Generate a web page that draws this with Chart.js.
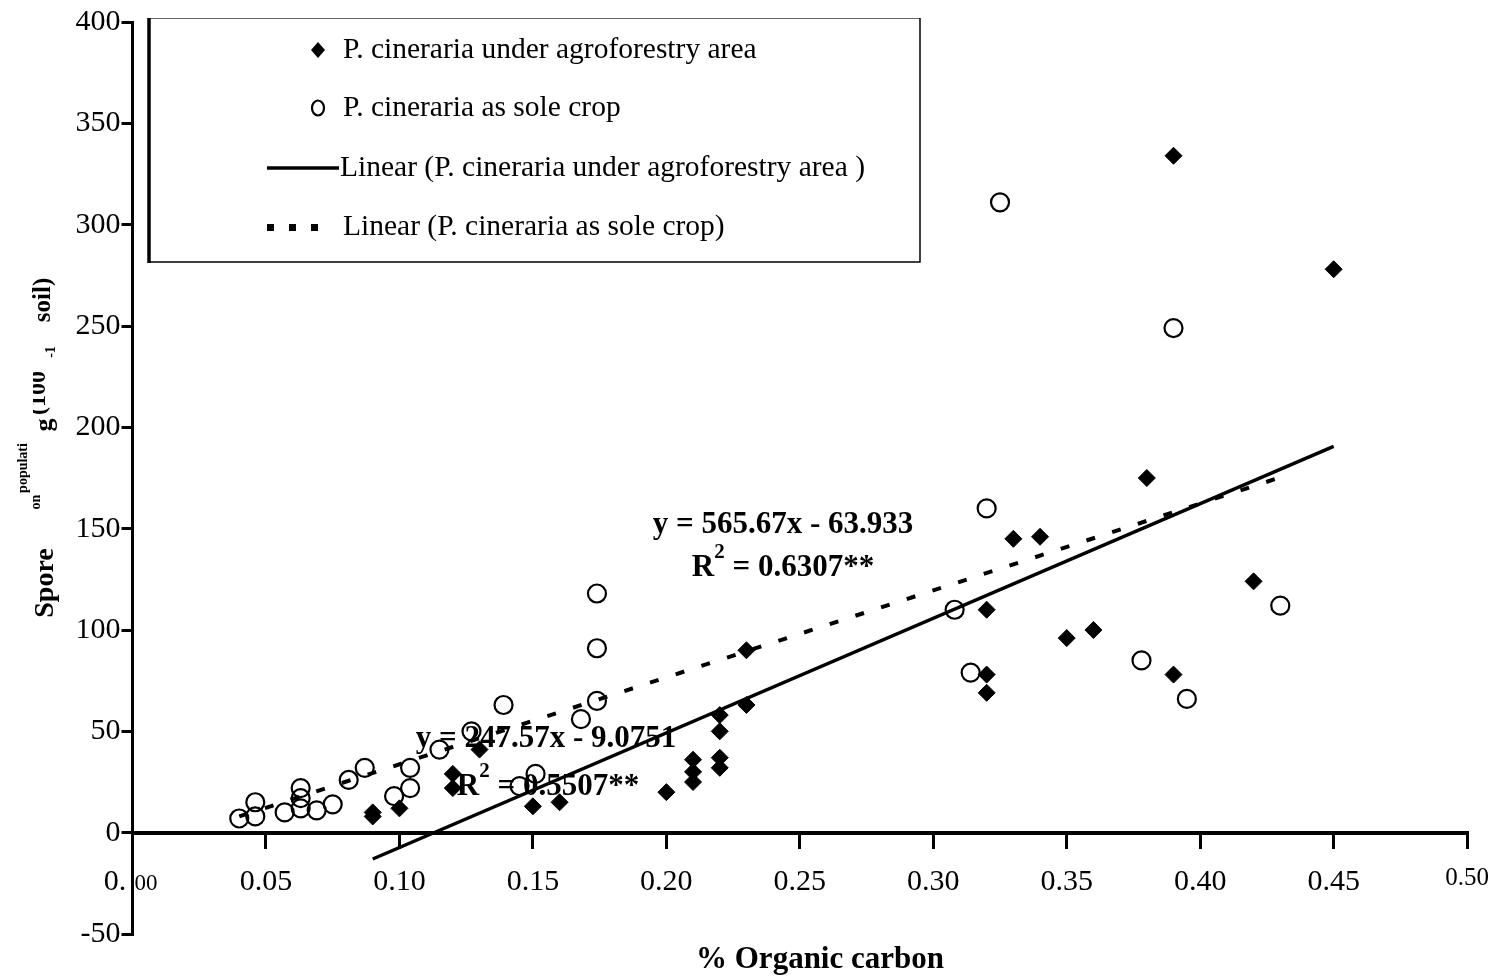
<!DOCTYPE html>
<html>
<head>
<meta charset="utf-8">
<script src="https://cdn.jsdelivr.net/npm/chart.js@4.4.0/dist/chart.umd.min.js"></script>
<style>
  html, body { margin: 0; padding: 0; background: #fff; }
  canvas { display: block; }
</style>
</head>
<body>
<canvas id="chart" width="1506" height="979"></canvas>
<script>
// P. cineraria under agroforestry area (Rauten)
const agroX = [0.09, 0.09, 0.10, 0.12, 0.12, 0.13, 0.15, 0.16, 0.20, 0.21, 0.21, 0.21,
  0.22, 0.22, 0.22, 0.22, 0.23, 0.23, 0.32, 0.32, 0.32, 0.33, 0.34, 0.35, 0.36, 0.38,
  0.39, 0.39, 0.42, 0.45];
const agroY = [10, 8, 12, 29, 22, 41, 13, 15, 20, 36, 30, 25,
  58, 50, 37, 32, 90, 63, 110, 78, 69, 145, 146, 96, 100, 175,
  334, 78, 124, 278];

// P. cineraria as sole crop (Kreise)
const soleX = [0.040, 0.046, 0.046, 0.057, 0.063, 0.063, 0.063, 0.069, 0.075, 0.081,
  0.087, 0.098, 0.104, 0.104, 0.115, 0.127, 0.139, 0.145, 0.151, 0.168, 0.174, 0.174,
  0.174, 0.308, 0.314, 0.320, 0.325, 0.378, 0.390, 0.395, 0.430];
const soleY = [7, 8, 15, 10, 22, 17, 12, 11, 14, 26,
  32, 18, 22, 32, 41, 50, 63, 23, 29, 56, 65, 91,
  118, 110, 79, 160, 311, 85, 249, 66, 112];

// Trendlinien (Endpunkte aus dem Bild)
const agroTrendX = [0.09, 0.45];
const agroTrendY = [-13.0, 190.6];
const soleTrendX = [0.04, 0.43];
const soleTrendY = [8.0, 175.3];

// Achsen
const xTickValues = [0, 0.05, 0.10, 0.15, 0.20, 0.25, 0.30, 0.35, 0.40, 0.45, 0.50];
const xTickLabels = ['', '0.05', '0.10', '0.15', '0.20', '0.25', '0.30', '0.35', '0.40', '0.45', '0.50'];
const yTickValues = [-50, 0, 50, 100, 150, 200, 250, 300, 350, 400];
const yTickLabels = ['-50', '0', '50', '100', '150', '200', '250', '300', '350', '400'];

const seriesNames = [
  'P. cineraria under agroforestry area',
  'P. cineraria as sole crop',
  'Linear (P. cineraria under agroforestry area )',
  'Linear (P. cineraria as sole crop)'
];
const equations = ['y = 565.67x - 63.933', '0.6307**', 'y = 247.57x - 9.0751', '0.5507**'];

const toPoints = (xs, ys) => xs.map((x, i) => ({ x: x, y: ys[i] }));
const SERIF = '"Liberation Serif", "Times New Roman", serif';

function drawR2(c, rest, cx, cy) {
  c.font = 'bold 31px ' + SERIF;
  const wR = c.measureText('R').width;
  const wRest = c.measureText(' = ' + rest).width;
  c.font = 'bold 21px ' + SERIF;
  const w2 = c.measureText('2').width;
  let x = cx - (wR + w2 + wRest) / 2;
  c.textAlign = 'left';
  c.font = 'bold 31px ' + SERIF;
  c.fillText('R', x, cy);
  c.font = 'bold 21px ' + SERIF;
  c.fillText('2', x + wR, cy - 15);
  c.font = 'bold 31px ' + SERIF;
  c.fillText(' = ' + rest, x + wR + w2, cy);
}

function rotText(c, txt, x, y, font) {
  c.save();
  c.translate(x, y);
  c.rotate(-Math.PI / 2);
  c.font = font;
  c.textAlign = 'center';
  c.textBaseline = 'middle';
  c.fillText(txt, 0, 0);
  c.restore();
}

const overlay = {
  id: 'overlay',
  afterDatasetsDraw(chart) {
    const c = chart.ctx;
    c.save();
    c.fillStyle = '#000';
    c.textBaseline = 'middle';
    c.textAlign = 'center';
    c.font = 'bold 31px ' + SERIF;
    c.fillText(equations[0], 783, 525);
    drawR2(c, equations[1], 783, 568);
    c.textAlign = 'center';
    c.font = 'bold 31px ' + SERIF;
    c.fillText(equations[2], 546, 739);
    drawR2(c, equations[3], 548, 787);
    c.restore();
  },
  afterDraw(chart) {
    const c = chart.ctx;
    c.save();
    c.fillStyle = '#000';
    c.strokeStyle = '#000';

    // Legende
    c.fillStyle = '#fff';
    c.fillRect(148, 18, 772, 244);
    c.lineWidth = 1;
    c.strokeStyle = '#666';
    c.beginPath(); c.moveTo(148, 18.5); c.lineTo(920, 18.5); c.stroke();
    c.strokeStyle = '#000';
    c.lineWidth = 1.5;
    c.beginPath(); c.moveTo(920, 18); c.lineTo(920, 262); c.lineTo(148, 262); c.stroke();
    c.lineWidth = 3.5;
    c.beginPath(); c.moveTo(149, 18); c.lineTo(149, 263); c.stroke();

    c.fillStyle = '#000';
    // Raute
    c.beginPath();
    c.moveTo(318, 42); c.lineTo(325, 50); c.lineTo(318, 58); c.lineTo(311, 50);
    c.closePath(); c.fill();
    // Kreis
    c.lineWidth = 2.2;
    c.beginPath(); c.ellipse(318, 108, 6, 7.5, 0, 0, Math.PI * 2); c.stroke();
    // durchgezogene Linie
    c.lineWidth = 3.5;
    c.beginPath(); c.moveTo(267, 168); c.lineTo(339, 168); c.stroke();
    // gestrichelt
    [267, 289, 311].forEach(x => c.fillRect(x, 224, 7, 7));

    c.font = '29.5px ' + SERIF;
    c.textAlign = 'left';
    c.textBaseline = 'middle';
    c.fillText(seriesNames[0], 343, 50);
    c.fillText(seriesNames[1], 343, 108);
    c.fillText(seriesNames[2], 340, 168);
    c.fillText(seriesNames[3], 343, 227);

    // x-Achse: "0. 00" und Titel
    c.textAlign = 'center';
    c.font = '30px ' + SERIF;
    c.fillText('0.', 115, 882);
    c.font = '23px ' + SERIF;
    c.fillText('00', 146, 884);
    c.font = 'bold 31px ' + SERIF;
    c.fillText('% Organic carbon', 820, 960);

    // y-Achsentitel (verschoben wie im Original)
    rotText(c, 'Spore', 46, 583, 'bold 28px ' + SERIF);
    rotText(c, 'populati', 23, 468, 'bold 14px ' + SERIF);
    rotText(c, 'on', 36, 502, 'bold 14px ' + SERIF);
    rotText(c, 'g', 45, 425, 'bold 26px ' + SERIF);
    c.save();
    c.beginPath(); c.rect(33, 370, 40, 45); c.clip();
    rotText(c, '(100', 39, 393, 'bold 24px ' + SERIF);
    c.restore();
    rotText(c, '-1', 51, 352, 'bold 14px ' + SERIF);
    rotText(c, 'soil)', 44, 300, 'bold 25px ' + SERIF);
    c.restore();
  }
};

const ctx = document.getElementById('chart').getContext('2d');
const chart = new Chart(ctx, {
  type: 'scatter',
  data: {
    datasets: [
      {
        label: seriesNames[0],
        data: toPoints(agroX, agroY),
        pointStyle: 'rectRot',
        pointRadius: 8.5,
        backgroundColor: '#000',
        borderColor: '#000',
        borderWidth: 1
      },
      {
        label: seriesNames[1],
        data: toPoints(soleX, soleY),
        pointStyle: 'circle',
        pointRadius: 9,
        backgroundColor: 'rgba(0,0,0,0)',
        borderColor: '#000',
        borderWidth: 2.2
      },
      {
        label: seriesNames[2],
        data: toPoints(agroTrendX, agroTrendY),
        showLine: true,
        pointRadius: 0,
        borderColor: '#000',
        borderWidth: 3.5,
        fill: false
      },
      {
        label: seriesNames[3],
        data: toPoints(soleTrendX, soleTrendY),
        showLine: true,
        pointRadius: 0,
        borderColor: '#000',
        borderWidth: 4,
        borderDash: [9, 18],
        fill: false
      }
    ]
  },
  options: {
    responsive: false,
    animation: false,
    devicePixelRatio: 1,
    layout: { padding: { top: 22, right: 38, bottom: 45, left: 0 } },
    plugins: {
      legend: { display: false },
      tooltip: { enabled: false }
    },
    scales: {
      x: {
        type: 'linear',
        position: { y: 0 },
        min: 0,
        max: 0.5,
        afterBuildTicks: s => { s.ticks = xTickValues.map(v => ({ value: v })); },
        ticks: {
          autoSkip: false,
          maxRotation: 0,
          padding: 17,
          color: '#000',
          font: c => ({
            family: SERIF,
            size: (c.tick && Math.abs(c.tick.value - 0.5) < 1e-6) ? 25 : 30
          }),
          callback: (v, i) => xTickLabels[i]
        },
        grid: {
          drawOnChartArea: false,
          drawTicks: true,
          tickLength: 14,
          color: '#000',
          lineWidth: 3
        },
        border: { display: true, color: '#000', width: 4 }
      },
      y: {
        type: 'linear',
        position: 'left',
        min: -50,
        max: 400,
        afterBuildTicks: s => { s.ticks = yTickValues.map(v => ({ value: v })); },
        afterFit: s => { s.width = 132.5; },
        ticks: {
          autoSkip: false,
          padding: 1,
          color: '#000',
          font: { family: SERIF, size: 30 },
          callback: (v, i) => yTickLabels[i]
        },
        grid: {
          drawOnChartArea: false,
          drawTicks: true,
          tickLength: 11,
          color: '#000',
          lineWidth: 3
        },
        border: { display: true, color: '#000', width: 3 }
      }
    }
  },
  plugins: [overlay]
});
</script>
</body>
</html>
